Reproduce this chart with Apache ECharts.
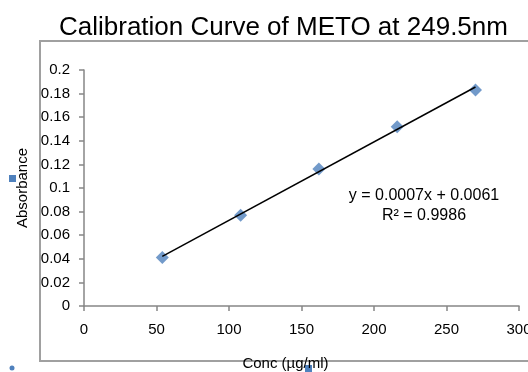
<!DOCTYPE html>
<html>
<head>
<meta charset="utf-8">
<script src="https://cdn.jsdelivr.net/npm/echarts@6/dist/echarts.min.js"></script>
<style>
  html, body { margin: 0; padding: 0; background: #fff; }
  #chart { width: 528px; height: 372px; }
</style>
</head>
<body>
<div id="chart"></div>
<script>
// calibration points
const conc = [54, 108, 162, 216, 270];
const absorbance = [0.041, 0.077, 0.116, 0.152, 0.183];
const equationText = 'y = 0.0007x + 0.0061';
const r2Text = 'R² = 0.9986';

// least squares trend line through the points
const n = conc.length;
const mx = conc.reduce((a, b) => a + b, 0) / n;
const my = absorbance.reduce((a, b) => a + b, 0) / n;
let sxy = 0, sxx = 0;
conc.forEach((x, i) => { sxy += (x - mx) * (absorbance[i] - my); sxx += (x - mx) * (x - mx); });
const slope = sxy / sxx;
const intercept = my - slope * mx;
const xMin = Math.min(...conc), xMax = Math.max(...conc);
const trend = [[xMin, intercept + slope * xMin], [xMax, intercept + slope * xMax]];

const font = 'Liberation Sans, Arial, sans-serif';
const chart = echarts.init(document.getElementById('chart'));
chart.setOption({
  animation: false,
  title: {
    text: 'Calibration Curve of METO at 249.5nm',
    left: 54,
    top: 10,
    textStyle: { fontFamily: font, fontSize: 26, fontWeight: 'normal', color: '#000' }
  },
  grid: { left: 84, right: 9, top: 70, bottom: 66, containLabel: false, outerBoundsMode: 'none' },
  xAxis: {
    type: 'value',
    min: 0, max: 300, interval: 50,
    name: 'Conc (µg/ml)',
    nameLocation: 'middle',
    nameGap: 50,
    nameTextStyle: { fontFamily: font, fontSize: 15, color: '#000', padding: [0, 32, 0, 0] },
    axisLine: { lineStyle: { color: '#868686', width: 1.5 } },
    axisTick: { length: 5, lineStyle: { color: '#868686', width: 1.5 } },
    axisLabel: { fontFamily: font, fontSize: 15, color: '#000', margin: 16 },
    splitLine: { show: false }
  },
  yAxis: {
    type: 'value',
    min: 0, max: 0.2, interval: 0.02,
    name: 'Absorbance',
    nameLocation: 'middle',
    nameGap: 53,
    nameTextStyle: { fontFamily: font, fontSize: 15, color: '#000' },
    axisLine: { show: true, lineStyle: { color: '#868686', width: 1.5 } },
    axisTick: { show: true, length: 5, lineStyle: { color: '#868686', width: 1.5 } },
    axisLabel: { fontFamily: font, fontSize: 15, color: '#000', margin: 14 },
    splitLine: { show: false }
  },
  series: [
    {
      type: 'line',
      data: trend,
      symbol: 'none',
      lineStyle: { color: '#000', width: 1.5 },
      z: 3
    },
    {
      type: 'scatter',
      data: conc.map((x, i) => [x, absorbance[i]]),
      symbol: 'diamond',
      symbolSize: 13,
      itemStyle: { color: '#4F81BD' },
      z: 2
    }
  ],
  graphic: [
    {
      type: 'rect',
      shape: { x: 40, y: 41, width: 500, height: 320 },
      style: { fill: null, stroke: '#a0a0a0', lineWidth: 2 },
      z: 0
    },
    {
      type: 'text',
      x: 424, y: 188,
      style: { text: equationText, font: '16px ' + font, fill: '#000', textAlign: 'center' }
    },
    {
      type: 'text',
      x: 424, y: 208,
      style: { text: r2Text, font: '16px ' + font, fill: '#000', textAlign: 'center' }
    },
    { type: 'rect', shape: { x: 9, y: 175, width: 7, height: 7 }, style: { fill: '#4F81BD' } },
    { type: 'rect', shape: { x: 305, y: 365, width: 7, height: 7 }, style: { fill: '#4F81BD' } },
    { type: 'circle', shape: { cx: 12, cy: 368, r: 2.5 }, style: { fill: '#4F81BD' } }
  ]
});
</script>
</body>
</html>
